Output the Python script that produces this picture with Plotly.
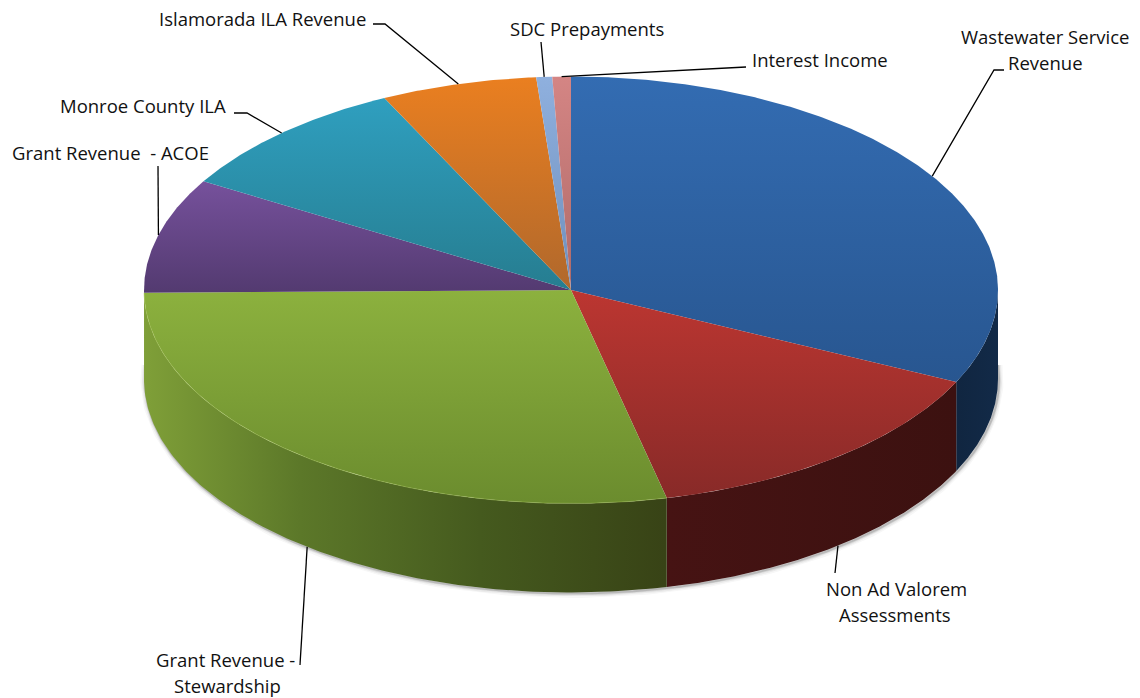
import numpy as np
import plotly.graph_objects as go

# Revenue shares, clockwise from twelve o'clock (percent)
categories = ["Wastewater Service Revenue", "Non Ad Valorem Assessments",
              "Grant Revenue - Stewardship", "Grant Revenue - ACOE",
              "Monroe County ILA", "Islamorada ILA Revenue",
              "SDC Prepayments", "Interest Income"]
values = [32.1, 14.3, 28.4, 8.7, 9.3, 5.9, 0.6, 0.7]

# Top face gradient per slice (upper colour, lower colour)
top_colors = [("#336cb2", "#285690"), ("#bc3631", "#882a28"), ("#8cb13e", "#6b8c2e"),
              ("#76519c", "#533a70"), ("#2f9fbf", "#267d90"), ("#ea7f20", "#b0682c"),
              ("#8fb0de", "#6f8fbc"), ("#d48584", "#b06a68")]
# Rim gradient across x: (stop position in pixels, colour)
wall_colors = [[(950, "#10253f"), (1000, "#122a48")],
               [(665, "#461313"), (955, "#3c1110")],
               [(145, "#7f9f38"), (300, "#5c7829"), (480, "#455a1e"), (665, "#384316")],
               None, None, None, None, None]

# Disc geometry in pixels
CX, CY, RX, RY, DEPTH = 571, 290, 427, 213.5, 89

# Label lines: text, centre x, centre y
label_lines = [
    ("Wastewater Service", 1045, 36), ("Revenue", 1045, 62),
    ("Non Ad Valorem", 896, 588), ("Assessments", 895, 614),
    ("Grant Revenue -", 225, 659), ("Stewardship", 227, 685),
    ("Grant Revenue  - ACOE", 110, 152),
    ("Monroe County ILA", 143, 105),
    ("Islamorada ILA Revenue", 262, 18),
    ("SDC Prepayments", 587, 28),
    ("Interest Income", 820, 59),
]
# Leader line waypoints leaving each slice's rim, outward
leaders = [
    [(994, 70), (1004, 70)],
    [(835, 573)],
    [(300, 665)],
    [(158, 166)],
    [(247, 113), (234, 113)],
    [(385, 24), (373, 24)],
    [(541, 42)],
    [(746, 67)],
]


def rim(a):
    """Rim point of the top ellipse; a is degrees clockwise from twelve o'clock."""
    r = np.radians(a)
    return CX + RX * np.sin(r), CY - RY * np.cos(r)


def lerp_scale(stops):
    lo, hi = stops[0][0], stops[-1][0]
    return [[(p - lo) / (hi - lo), c] for p, c in stops]


edges = np.concatenate([[0], np.cumsum(values)]) / np.sum(values) * 360
fig = go.Figure()

# Soft drop shadow hugging the lower rim
arc = np.linspace(86, 274, 240)
ax, ay = rim(arc)
for w, alpha in [(9, 0.035), (6, 0.06), (3.5, 0.10), (2, 0.16)]:
    fig.add_trace(go.Scatter(x=ax + 1, y=ay + DEPTH + 1, mode="lines",
                             line=dict(color=f"rgba(40,40,40,{alpha})", width=w),
                             hoverinfo="skip"))

# Side walls of the slices on the near half of the disc
for i, stops in enumerate(wall_colors):
    if stops is None:
        continue
    a0, a1 = max(edges[i], 90), min(edges[i + 1], 270)
    t = np.linspace(a0, a1, 160)
    x, y = rim(t)
    fig.add_trace(go.Scatter(
        x=np.r_[x, x[::-1], x[0]], y=np.r_[y, y[::-1] + DEPTH, y[0]],
        mode="lines", line=dict(width=0), fill="toself",
        fillgradient=dict(type="horizontal", colorscale=lerp_scale(stops),
                          start=stops[0][0], stop=stops[-1][0]),
        hoverinfo="skip"))

# Top faces, each shaded over its own height
for i, (name, (c0, c1)) in enumerate(zip(categories, top_colors)):
    t = np.linspace(edges[i], edges[i + 1], max(6, int(edges[i + 1] - edges[i]) * 3))
    x, y = rim(t)
    px, py = np.r_[CX, x, CX], np.r_[CY, y, CY]
    fig.add_trace(go.Scatter(
        x=px, y=py,
        mode="lines", line=dict(width=0), fill="toself",
        fillgradient=dict(type="vertical", colorscale=[[0, c0], [1, c1]],
                          start=float(py.min()), stop=float(py.max())),
        name=name, text=f"{name}: {values[i]}%", hoverinfo="text"))

# Thin highlight along the bevelled green edge
t = np.linspace(edges[2], edges[3], 120)
x, y = rim(t)
fig.add_trace(go.Scatter(x=x, y=y, mode="lines",
                         line=dict(color="rgba(170,200,90,0.4)", width=1),
                         hoverinfo="skip"))

# Leader lines, anchored at the middle of each slice's arc
for i, pts in enumerate(leaders):
    mid = (edges[i] + edges[i + 1]) / 2
    px, py = rim(mid)
    if 90 < mid < 270:
        py += DEPTH
    fig.add_trace(go.Scatter(x=[px] + [p[0] for p in pts], y=[py] + [p[1] for p in pts],
                             mode="lines", line=dict(color="#000000", width=1.3),
                             hoverinfo="skip"))

annotations = [dict(x=lx, y=ly, text=txt, showarrow=False, xanchor="center", yanchor="middle",
                    font=dict(family="Open Sans, sans-serif", size=18.5, color="#111111"))
               for txt, lx, ly in label_lines]

fig.update_layout(
    width=1140, height=698, margin=dict(l=0, r=0, t=0, b=0),
    paper_bgcolor="white", plot_bgcolor="white", showlegend=False,
    xaxis=dict(range=[0, 1140], visible=False, fixedrange=True),
    yaxis=dict(range=[698, 0], visible=False, fixedrange=True),
    annotations=annotations,
)
fig.write_html("out.html", config=dict(displayModeBar=False))
